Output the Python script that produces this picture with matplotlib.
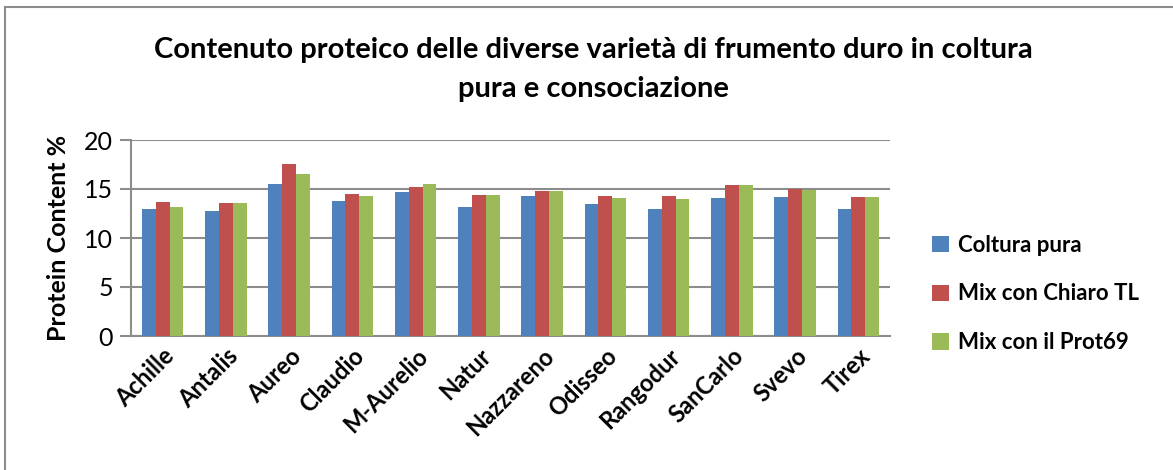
import numpy as np
import matplotlib.pyplot as plt
from matplotlib.lines import Line2D

# Data
varieties = ['Achille', 'Antalis', 'Aureo', 'Claudio', 'M-Aurelio', 'Natur',
             'Nazzareno', 'Odisseo', 'Rangodur', 'SanCarlo', 'Svevo', 'Tirex']
coltura_pura = [13.0, 12.8, 15.5, 13.8, 14.7, 13.2, 14.3, 13.5, 13.0, 14.1, 14.2, 13.0]
mix_chiaro = [13.7, 13.6, 17.5, 14.5, 15.2, 14.4, 14.8, 14.3, 14.3, 15.4, 15.0, 14.2]
mix_prot69 = [13.2, 13.6, 16.5, 14.3, 15.5, 14.4, 14.8, 14.1, 14.0, 15.4, 14.9, 14.2]
series_names = ['Coltura pura', 'Mix con Chiaro TL', 'Mix con il Prot69']
colors = ['#4f81bd', '#c0504d', '#9bbb59']

plt.rcParams['font.family'] = ['Lato', 'DejaVu Sans']

fig = plt.figure(figsize=(11.73, 4.70), dpi=100)
ax = fig.add_axes([131 / 1173, 1 - 336 / 470, (890 - 131) / 1173, (336 - 140) / 470])

x = np.arange(len(varieties))
w = 0.22
for i, (vals, name, c) in enumerate(zip([coltura_pura, mix_chiaro, mix_prot69], series_names, colors)):
    ax.bar(x + (i - 1) * w, vals, width=w, color=c, label=name, zorder=3)

ax.set_xlim(-0.5, len(varieties) - 0.5)
ax.set_ylim(0, 20)
ax.set_yticks([0, 5, 10, 15, 20])
ax.yaxis.grid(True, color='#8c8c8c', linewidth=1.5, zorder=0)
ax.tick_params(axis='y', length=8, width=1.5, color='#8c8c8c', labelsize=18, pad=5)
ax.tick_params(axis='x', length=0, pad=6)
ax.set_xticks(x)
ax.set_xticklabels(varieties, rotation=45, ha='right', rotation_mode='anchor',
                   fontsize=17, fontweight='bold')
for s in ['top', 'right']:
    ax.spines[s].set_visible(False)
for s in ['left', 'bottom']:
    ax.spines[s].set_color('#8c8c8c')
    ax.spines[s].set_linewidth(1.5)

ax.set_ylabel('Protein Content %', fontsize=18, fontweight='bold', labelpad=10)

fig.text(0.506, 1 - 50 / 470, 'Contenuto proteico delle diverse varietà di frumento duro in coltura',
         ha='center', va='center', fontsize=21, fontweight='bold')
fig.text(0.506, 1 - 89 / 470, 'pura e consociazione',
         ha='center', va='center', fontsize=21, fontweight='bold')

fig.legend(loc='center left', bbox_to_anchor=(912 / 1173, 1 - 294 / 470),
           frameon=False, handlelength=0.75, handleheight=0.75,
           labelspacing=1.25, handletextpad=0.4, prop={'weight': 'bold', 'size': 16})

# outer chart border (only top and left edges are visible in the image)
fig.add_artist(Line2D([5 / 1173, 5 / 1173], [0, 1 - 7 / 470], transform=fig.transFigure,
                      color='#8c8c8c', linewidth=1.5))
fig.add_artist(Line2D([5 / 1173, 1], [1 - 7 / 470, 1 - 7 / 470], transform=fig.transFigure,
                      color='#8c8c8c', linewidth=1.5))

fig.savefig('out.png', dpi=100)
